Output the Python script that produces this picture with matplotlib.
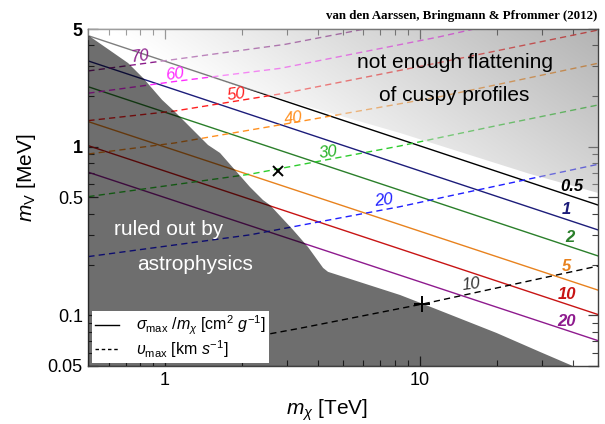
import numpy as np
import matplotlib
matplotlib.use("Agg")
import matplotlib.pyplot as plt
from matplotlib.patches import Polygon
from matplotlib.lines import Line2D
from matplotlib.image import AxesImage
from matplotlib.ticker import NullFormatter

plt.rcParams['font.family'] = ['Liberation Sans', 'DejaVu Sans']
plt.rcParams['mathtext.fontset'] = 'custom'
plt.rcParams['mathtext.rm'] = 'Liberation Sans'
plt.rcParams['mathtext.it'] = 'Liberation Sans:italic'
plt.rcParams['mathtext.bf'] = 'Liberation Sans:bold'

# sigma_max/m_chi contours [cm^2/g]: m_V [MeV] at m_chi = 0.5 and 50 TeV
sig_mchi = [0.5, 50]
sig_levels = ["0.5", "1", "2", "5", "10", "20"]
sig_mv = [[4.56, 0.451], [3.23, 0.321], [2.27, 0.225],
          [1.41, 0.141], [1.015, 0.101], [0.706, 0.0707]]

# v_max contours [km/s]
v_levels = ["70", "60", "50", "40", "30", "20", "10"]
v_mchi = [[0.5, 1.09, 2.95, 6.5],
          [0.5, 1.09, 2.83, 11.98, 17.2],
          [0.5, 1.09, 2.95, 11.98, 50],
          [0.5, 1.09, 3.38, 11.98, 50],
          [0.5, 2.15, 8.35, 20.6, 50],
          [0.5, 2.15, 8.35, 13.1, 50],
          [2.15, 3.38, 10.27, 50]]
v_mv = [[2.82, 3.3, 4.05, 5.1],
        [2.08, 2.44, 2.92, 4.5, 5.09],
        [1.43, 1.63, 2.08, 3.165, 4.93],
        [0.906, 1.053, 1.413, 1.983, 3.13],
        [0.506, 0.687, 1.011, 1.347, 1.77],
        [0.223, 0.300, 0.441, 0.511, 0.787],
        [0.0738, 0.0837, 0.1167, 0.196]]

# region ruled out by astrophysics
excl_mchi = [0.5, 0.716, 0.82, 0.973, 1.094, 1.474, 1.643, 2.154, 2.423, 2.58,
             3.18, 3.64, 4.17, 4.36, 8.35, 10.3, 20.0, 29.6, 39.8, 0.5]
excl_mv = [4.58, 3.14, 2.56, 1.90, 1.61, 1.025, 0.919, 0.577, 0.483, 0.451,
           0.321, 0.254, 0.191, 0.181, 0.132, 0.1167, 0.0785, 0.0606, 0.05, 0.05]

# region with not enough flattening of cuspy profiles
flat_mchi = [0.5, 50, 50, 27.0, 8.35, 1.968, 0.5]
flat_mv = [5, 5, 0.532, 0.690, 1.208, 2.264, 4.30]

# benchmark points
bench_mchi = [2.77, 10.2]
bench_mv = [0.718, 0.117]

sig_colors = ["black", "#1c1c7a", "#2a7f2a", "#e8821e", "#c81414", "#8e1a8e"]
v_colors = ["#8b1e8b", "#ff2bff", "#ff2020", "#ff9020", "#2ecc2e", "#2020ff", "black"]
v_text_colors = ["#8b1e8b", "#ff2bff", "#ff2020", "#ff9020", "#22b022", "#2020ff", "#333333"]

fig = plt.figure(figsize=(6.05, 4.24), dpi=100)
ax = fig.add_axes([0.146, 0.1368, 0.8425, 0.7948])
ax.set_xscale('log')
ax.set_yscale('log')
ax.set_xlim(0.5, 50)
ax.set_ylim(0.05, 5)

for mv, c in zip(sig_mv, sig_colors):
    ax.plot(sig_mchi, mv, color=c, lw=1, zorder=2)
for xs, ys, c in zip(v_mchi, v_mv, v_colors):
    ax.plot(xs, ys, color=c, lw=1, ls=(0, (4.5, 3)), zorder=2)

# gray gradient over the upper right region (drawn in axes coords)
fx, fy = np.meshgrid(np.linspace(0, 1, 400), np.linspace(0, 1, 300))
shade = np.clip(1.31 - 0.31 * fx - 0.295 * fy, 0, 1)
a = 0.5
g = (shade - (1 - a)) / a
rgba = np.dstack([g, g, g, np.full_like(g, a)])
im = AxesImage(ax, interpolation='bilinear', origin='lower', extent=(0, 1, 0, 1))
im.set_data(rgba)
im.set_transform(ax.transAxes)
im.set_zorder(3)
ax.add_image(im)
clip = Polygon(np.column_stack([flat_mchi, flat_mv]), closed=True, transform=ax.transData)
im.set_clip_path(clip)

ax.fill(excl_mchi, excl_mv, facecolor='black', alpha=0.57, lw=0, zorder=4)

# contour labels
sig_lab_pos = [(39.4, 0.585), (37.6, 0.4217), (38.7, 0.290), (37.6, 0.194), (37.6, 0.132), (37.6, 0.0916)]
for s, (x, y), c in zip(sig_levels, sig_lab_pos, sig_colors):
    ax.text(x, y, s, color=c, fontsize=12, fontweight='bold', fontstyle='italic',
            ha='center', va='center', zorder=5)
v_lab_pos = [(0.798, 3.43), (1.094, 2.69), (1.91, 2.05), (3.18, 1.476), (4.37, 0.923), (7.18, 0.483), (15.95, 0.1534)]
for s, (x, y), c in zip(v_levels, v_lab_pos, v_text_colors):
    ax.text(x, y, s, color=c, fontsize=12, fontstyle='italic', rotation=7,
            ha='center', va='center', zorder=5)

ax.plot(bench_mchi[0], bench_mv[0], marker='x', ms=6.5, mew=1.4, color='black', zorder=6)
ax.plot(bench_mchi[1], bench_mv[1], marker='+', ms=11, mew=1.4, color='black', zorder=6)

ax.text(0.7195, 0.902, "not enough flattening", transform=ax.transAxes, fontsize=15,
        ha='center', va='center', zorder=6)
ax.text(0.7175, 0.804, "of cuspy profiles", transform=ax.transAxes, fontsize=15,
        ha='center', va='center', zorder=6)
ax.text(0.1583, 0.4036, "ruled out by", transform=ax.transAxes, fontsize=15, color='white',
        ha='center', va='center', zorder=6)
ax.text(0.2093, 0.2997, "astrophysics", transform=ax.transAxes, fontsize=15, color='white',
        ha='center', va='center', zorder=6)

handles = [Line2D([], [], color='black', lw=1),
           Line2D([], [], color='black', lw=1, ls=(0, (2.5, 2)))]
labels = [r"$\sigma_{\mathrm{max}}\ /m_\chi$ [cm$^2$ $g^{-1}$]",
          r"$\upsilon_{\mathrm{max}}$ [km $s^{-1}$]"]
leg = ax.legend(handles, labels, loc='lower left', fontsize=11.5, frameon=True, fancybox=False,
                framealpha=1, facecolor='white', edgecolor='none', handlelength=1.5,
                handletextpad=1.1, borderaxespad=0.2, borderpad=0.2, labelspacing=0.05)
leg.set_zorder(10)

ax.set_xticks([1, 10])
ax.set_xticklabels(["1", "10"])
ax.set_xticks([0.5, 0.6, 0.7, 0.8, 0.9, 2, 3, 4, 5, 6, 7, 8, 9, 20, 30, 40, 50], minor=True)
ax.xaxis.set_minor_formatter(NullFormatter())
ax.set_yticks([0.05, 0.1, 0.5, 1, 5])
ax.set_yticklabels(["0.05", "0.1", "0.5", "1", "5"])
ax.set_yticks([0.06, 0.07, 0.08, 0.09, 0.2, 0.3, 0.4, 0.6, 0.7, 0.8, 0.9, 2, 3, 4], minor=True)
ax.yaxis.set_minor_formatter(NullFormatter())
for lbl in ax.get_yticklabels():
    if lbl.get_text() in ("1", "5"):
        lbl.set_fontweight('bold')

ax.tick_params(which='both', direction='in', top=True, right=True, color='#404040', labelsize=13)
ax.tick_params(which='major', length=7, width=0.9, pad=4)
ax.tick_params(which='minor', length=4, width=0.8)
for sp in ax.spines.values():
    sp.set_color('#404040')
    sp.set_linewidth(1)

ax.set_xlabel(r"$m_\chi$ [TeV]", fontsize=15)
ax.set_ylabel(r"$m_{\mathrm{V}}$ [MeV]", fontsize=15)
ax.xaxis.set_label_coords(0.468, -0.093)
ax.yaxis.set_label_coords(-0.099, 0.56)

fig.text(597 / 605, 1 - 19.3 / 424, "van den Aarssen, Bringmann & Pfrommer (2012)",
         fontfamily='Liberation Serif', fontweight='bold', fontsize=9.3, ha='right', va='baseline')

fig.savefig("out.png", dpi=100)
